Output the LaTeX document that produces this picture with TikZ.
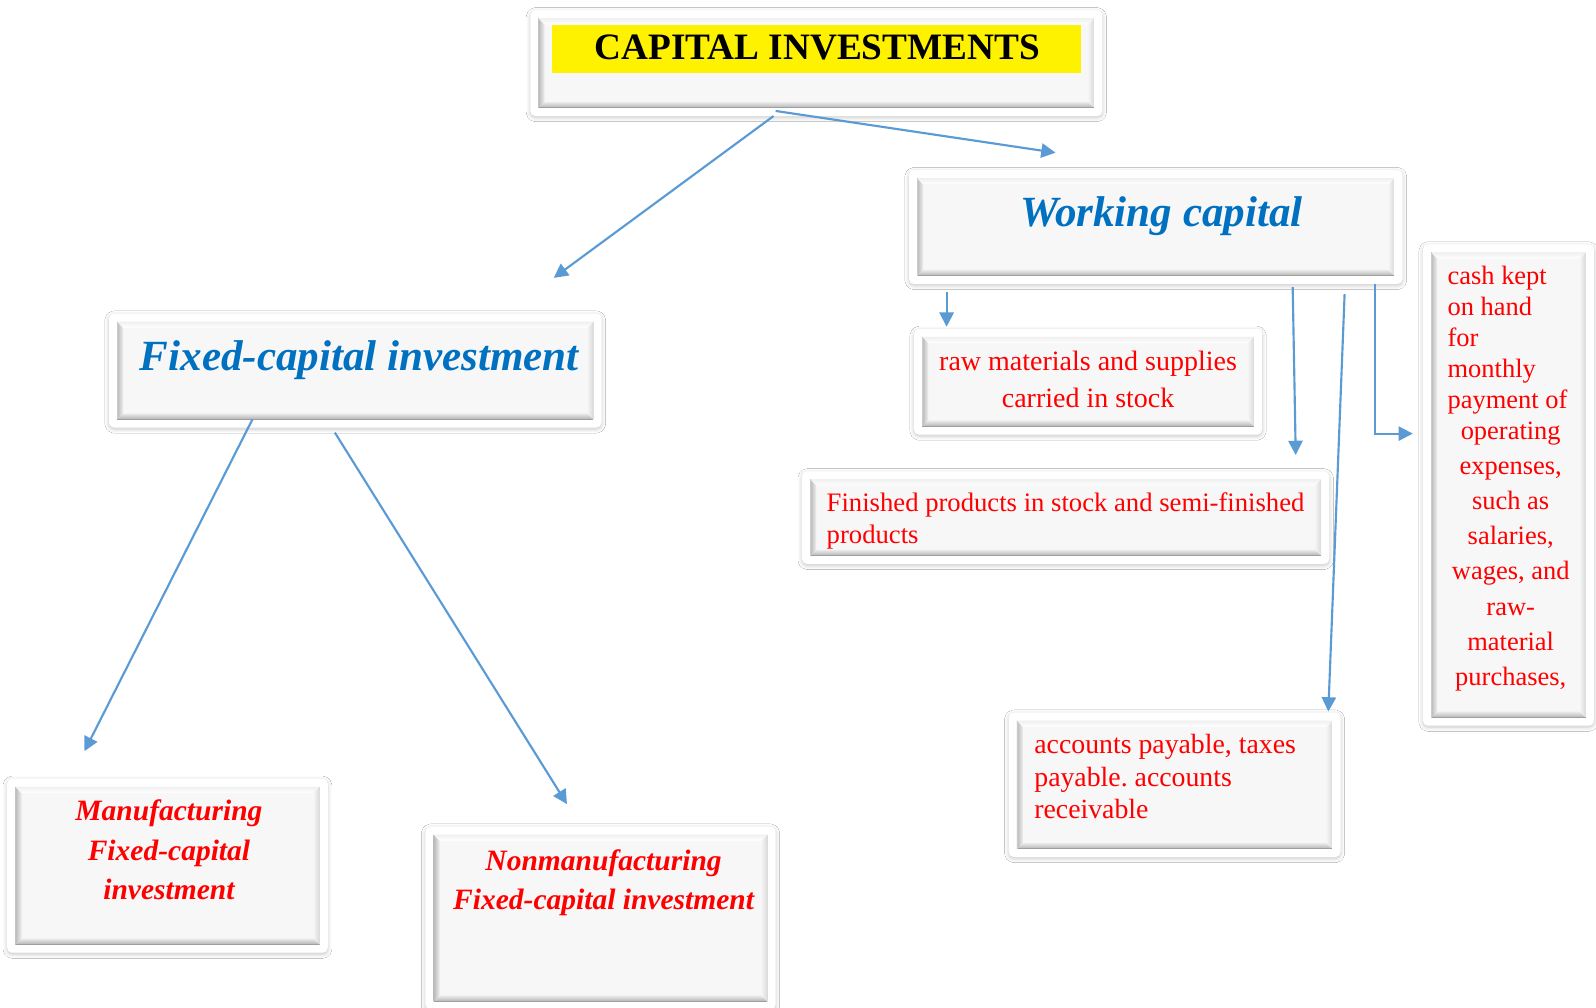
\documentclass[tikz,border=0pt]{standalone}
\usepackage{fontspec}
\setmainfont{Liberation Serif}
\frenchspacing
\usetikzlibrary{shadows.blur,fit,arrows.meta,calc}
\definecolor{arrowblue}{RGB}{91,155,213}
\definecolor{titleblue}{RGB}{0,112,192}
\definecolor{boxfill}{RGB}{247,247,247}
\definecolor{redtext}{RGB}{255,0,0}
\tikzset{
  outerbox/.style={fill=white, rounded corners=5pt, inner sep=0pt,
    blur shadow={shadow xshift=0pt, shadow yshift=-1.5pt, shadow blur radius=4pt, shadow blur steps=8, shadow opacity=22}},
  innerbox/.style={fill=boxfill, inner sep=0pt,
    path picture={
      \coordinate (pSW) at (path picture bounding box.south west);
      \coordinate (pNE) at (path picture bounding box.north east);
      \coordinate (pNW) at (pSW|-pNE);
      \coordinate (pSE) at (pNE|-pSW);
      \shade[left color=gray!55,right color=gray!12] (pSW) -- (pNW) -- ($(pNW)+(6,-6)$) -- ($(pSW)+(6,6)$) -- cycle;
      \shade[top color=gray!15,bottom color=gray!60] (pSW) -- (pSE) -- ($(pSE)+(-6,6)$) -- ($(pSW)+(6,6)$) -- cycle;
      \shade[left color=gray!8,right color=gray!30] (pSE) -- (pNE) -- ($(pNE)+(-6,-6)$) -- ($(pSE)+(-6,6)$) -- cycle;
      \shade[top color=gray!12,bottom color=white] (pNW) -- (pNE) -- ($(pNE)+(-6,-6)$) -- ($(pNW)+(6,-6)$) -- cycle;
      \draw[gray!75, line width=1.2pt] (pSW) -- (pSE);
      \draw[gray!40, line width=0.6pt] (pSW) -- (pNW);
    }},
  conn/.style={draw=arrowblue, line width=2.1pt, -{Triangle[length=14pt,width=14pt]}},
  bluetitle/.style={text=titleblue, inner sep=0pt, font=\bfseries\itshape\fontsize{42.3}{48}\selectfont},
  redtitle/.style={text=redtext, inner sep=0pt, align=center, font=\bfseries\itshape\fontsize{29}{38.5}\selectfont},
  redtext/.style={text=redtext, inner sep=0pt, font=\fontsize{27.3}{32}\selectfont},
}
\newcommand\bbox[5]{%
  \node[outerbox, fit={(#2,-#3)(#4,-#5)}] (#1) {};
  \node[innerbox, fit={(#2+8,-#3-8)(#4-8,-#5+8)}] (#1-in) {};
}
\begin{document}
\begin{tikzpicture}[x=1pt,y=1pt]
\useasboundingbox (0,0) rectangle (1568,-990);
\fill[white] (0,0) rectangle (1568,-990);

% boxes
\bbox{top}{521}{10}{1083}{114}
\bbox{work}{893}{167}{1378}{279}
\bbox{fixed}{107}{308}{591}{420}
\bbox{raw}{898}{323}{1240}{427}
\bbox{fin}{788}{463}{1306}{554}
\bbox{acc}{991}{700}{1317}{842}
\bbox{cash}{1398}{240}{1566}{713}
\bbox{manu}{7}{765}{322}{936}
\bbox{nonmanu}{418}{812}{762}{992}

% title
\node[fill=yellow, inner sep=0pt, fit={(542,-25)(1062,-72)}] (hl) {};
\node[inner sep=0pt, font=\bfseries\fontsize{36.6}{40}\selectfont] (tTop) at (803,-47) {CAPITAL INVESTMENTS};

\node[bluetitle] (tWork) at (1141,-212) {Working capital};
\node[bluetitle] (tFixed) at (353,-354) {Fixed-capital investment};

\node[redtext, align=center, font=\fontsize{27.5}{36}\selectfont] (tRaw) at (1069,-373) {raw materials and supplies\\carried in stock};
\node[redtext, align=left, anchor=west, font=\fontsize{26.2}{32}\selectfont] (tFin) at (812,-512) {Finished products in stock and semi-finished\\products};
\node[redtext, align=left, anchor=west] (tAcc) at (1016,-763) {accounts payable, taxes\\payable. accounts\\receivable};
\node[text=redtext, anchor=north west, text width=124pt, align=flush left, inner sep=0pt, font=\fontsize{26}{30.5}\selectfont] (tCash) at (1422,-261)
  {cash kept\\on hand\\for\\monthly\\payment of\par\vspace{-4pt}{\centering\fontsize{26}{34.5}\selectfont operating\\expenses,\\such as\\salaries,\\wages, and\\raw-\\material\\purchases,\par}};

\node[redtitle] (tManu) at (166,-835) {Manufacturing\\Fixed-capital\\investment};
\node[redtitle] (tNon) at (593,-867) {Nonmanufacturing\\Fixed-capital investment};

% connector coordinates
\coordinate (s1) at (762,-109); \coordinate (e1) at (1037,-150);
\coordinate (s2) at (760,-114); \coordinate (e2) at (544,-273);
\coordinate (s3) at (248,-412); \coordinate (e3) at (83,-738);
\coordinate (s4) at (329,-425); \coordinate (e4) at (557,-790);
\coordinate (s5) at (930,-287); \coordinate (e5) at (930,-321);
\coordinate (s6) at (1270,-282); \coordinate (e6) at (1273,-447);
\coordinate (s7) at (1321,-289); \coordinate (e7) at (1305,-699);
\coordinate (s8) at (1351,-279); \coordinate (e8) at (1388,-426);

\draw[conn] (s1) -- (e1);
\draw[conn] (s2) -- (e2);
\draw[conn] (s3) -- (e3);
\draw[conn] (s4) -- (e4);
\draw[conn] (s5) -- (e5);
\draw[conn] (s6) -- (e6);
\draw[conn] (s7) -- (e7);
\draw[conn] (s8) |- (e8);
\end{tikzpicture}
\end{document}
